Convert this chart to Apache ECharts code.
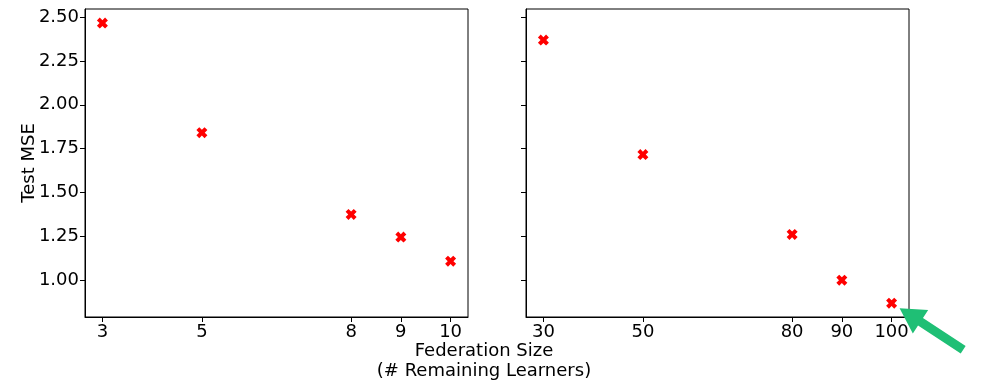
<!DOCTYPE html>
<html>
<head>
<meta charset="utf-8">
<script src="https://cdn.jsdelivr.net/npm/echarts@6/dist/echarts.min.js"></script>
<style>
  html, body { margin: 0; padding: 0; background: #fff; }
  #main { width: 984px; height: 381px; }
</style>
</head>
<body>
<div id="main"></div>
<script>
// small federations (left) and large federations (right)
var smallSizes = [3, 5, 8, 9, 10];
var smallMSE = [2.466, 1.841, 1.375, 1.246, 1.108];
var largeSizes = [30, 50, 80, 90, 100];
var largeMSE = [2.369, 1.716, 1.261, 1.000, 0.869];
var yTicks = [1.00, 1.25, 1.50, 1.75, 2.00, 2.25, 2.50];

var chartDom = document.getElementById('main');
var myChart = echarts.init(chartDom, null, { renderer: 'canvas' });

var xMarker = 'path://M0,2.6 L2.6,0 L5,2.4 L7.4,0 L10,2.6 L7.6,5 L10,7.4 L7.4,10 L5,7.6 L2.6,10 L0,7.4 L2.4,5 Z';
var font = 'DejaVu Sans';
var fs = 18;

function pairs(xs, ys) {
  return xs.map(function (x, i) { return [x, ys[i]]; });
}

function xAxisFor(idx, ticks, min, max) {
  return {
    gridIndex: idx,
    type: 'value',
    min: min,
    max: max,
    splitLine: { show: false },
    axisLine: { onZero: false, lineStyle: { color: '#000', width: 1 } },
    axisTick: { customValues: ticks, length: 5, lineStyle: { color: '#000' } },
    axisLabel: { customValues: ticks, color: '#000', fontSize: fs, fontFamily: font, margin: 6 }
  };
}

function yAxisFor(idx, showLabels) {
  return {
    gridIndex: idx,
    type: 'value',
    min: 0.79,
    max: 2.546,
    name: showLabels ? 'Test MSE' : '',
    nameLocation: 'middle',
    nameRotate: 90,
    nameGap: 47,
    nameMoveOverlap: false,
    nameTextStyle: { color: '#000', fontSize: fs, fontFamily: font },
    splitLine: { show: false },
    axisLine: { show: true, lineStyle: { color: '#000', width: 1 } },
    axisTick: { customValues: yTicks, length: 5, lineStyle: { color: '#000' } },
    axisLabel: {
      show: showLabels,
      customValues: yTicks,
      color: '#000', fontSize: fs, fontFamily: font, margin: 6,
      formatter: function (v) { return v.toFixed(2); }
    }
  };
}

var option = {
  animation: false,
  backgroundColor: '#fff',
  title: {
    text: 'Federation Size\n(# Remaining Learners)',
    left: 484,
    top: 341,
    padding: 0,
    textAlign: 'center',
    textStyle: { color: '#000', fontSize: fs, fontWeight: 'normal', fontFamily: font, lineHeight: 20 }
  },
  grid: [
    { left: 85, right: 516, top: 9, bottom: 64, show: true, borderColor: '#000', borderWidth: 1 },
    { left: 526, right: 75, top: 9, bottom: 64, show: true, borderColor: '#000', borderWidth: 1 }
  ],
  xAxis: [
    xAxisFor(0, smallSizes, 2.65, 10.35),
    xAxisFor(1, largeSizes, 26.5, 103.5)
  ],
  yAxis: [
    yAxisFor(0, true),
    yAxisFor(1, false)
  ],
  series: [
    {
      type: 'scatter', xAxisIndex: 0, yAxisIndex: 0,
      symbol: xMarker, symbolSize: 11,
      itemStyle: { color: '#ff0000', opacity: 1 },
      data: pairs(smallSizes, smallMSE)
    },
    {
      type: 'scatter', xAxisIndex: 1, yAxisIndex: 1,
      symbol: xMarker, symbolSize: 11,
      itemStyle: { color: '#ff0000', opacity: 1 },
      data: pairs(largeSizes, largeMSE)
    }
  ]
};

option && myChart.setOption(option);

// green arrow pointing at the last (largest federation) point
var last = largeSizes.length - 1;
var tip = myChart.convertToPixel({ gridIndex: 1 }, [largeSizes[last], largeMSE[last]]);
var tx = tip[0] + 8, ty = tip[1] + 5;
var ang = Math.atan2(ty - 349, tx - 962); // direction from tail to tip
var len = 76, headLen = 25, headW = 14, shaftW = 4.5;
var ux = Math.cos(ang), uy = Math.sin(ang), nx = -uy, ny = ux;
var bx = tx - ux * headLen, by = ty - uy * headLen;
var sx = tx - ux * len, sy = ty - uy * len;
myChart.setOption({
  graphic: [{
    type: 'polygon',
    shape: {
      points: [
        [tx, ty],
        [bx + nx * headW, by + ny * headW],
        [bx + nx * shaftW, by + ny * shaftW],
        [sx + nx * shaftW, sy + ny * shaftW],
        [sx - nx * shaftW, sy - ny * shaftW],
        [bx - nx * shaftW, by - ny * shaftW],
        [bx - nx * headW, by - ny * headW]
      ]
    },
    style: { fill: '#1fbf75' },
    z: 100
  }]
});
</script>
</body>
</html>
